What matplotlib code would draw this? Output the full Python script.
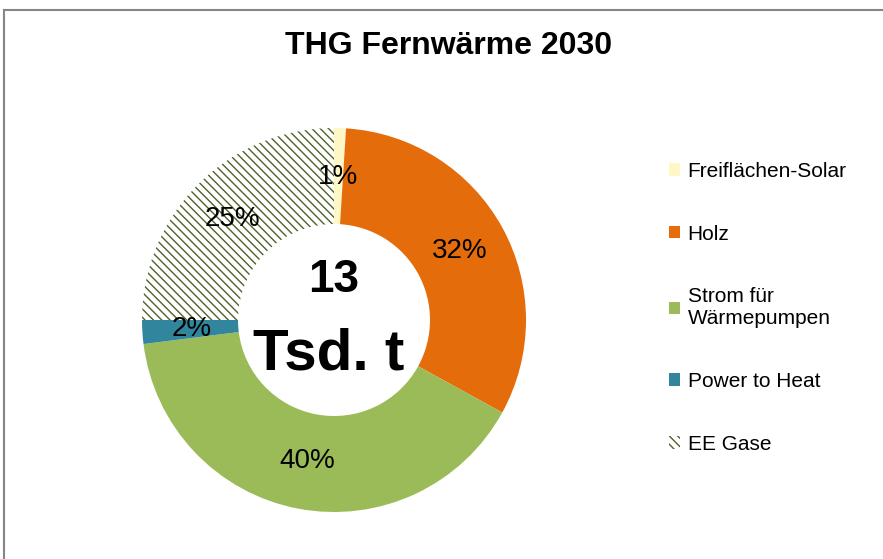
import matplotlib.pyplot as plt
from matplotlib.lines import Line2D

plt.rcParams['font.family'] = ['Liberation Sans', 'DejaVu Sans']
plt.rcParams['hatch.linewidth'] = 1.0

# data
labels = ["Freiflächen-Solar", "Holz", "Strom für\nWärmepumpen", "Power to Heat", "EE Gase"]
shares = [1, 32, 40, 2, 25]
colors = ["#FFF8C6", "#E46C0A", "#9BBB59", "#31859C", "white"]
hatches = [None, None, None, None, "\\\\\\\\"]
title = "THG Fernwärme 2030"
center_value = "13"
center_unit = "Tsd. t"

W, H = 883, 559
fig = plt.figure(figsize=(W / 100, H / 100), dpi=100)

# donut centre (334, 320) px, outer radius 192 px
cx, cy, r = 334, 320, 192
ax = fig.add_axes([(cx - r) / W, (H - cy - r) / H, 2 * r / W, 2 * r / H])

wedges, texts, autotexts = ax.pie(
    shares, colors=colors, startangle=90, counterclock=False,
    radius=1.0, autopct='%.0f%%', pctdistance=0.745,
    wedgeprops=dict(width=0.5, linewidth=0),
    textprops=dict(fontsize=20, color='black'))
for w, h in zip(wedges, hatches):
    if h:
        w.set_hatch(h)
        w.set_edgecolor("#4F6228")
        w.set_linewidth(0)
ax.set_xlim(-1, 1)
ax.set_ylim(-1, 1)

ax.text(0, 0.21, center_value, ha='center', va='center', fontsize=33, fontweight='bold')
ax.text(-0.03, -0.18, center_unit, ha='center', va='center', fontsize=42, fontweight='bold')

fig.text(449 / W, 1 - 46 / H, title, ha='center', va='center', fontsize=23, fontweight='bold')

leg = fig.legend(wedges, labels, loc='upper left', bbox_to_anchor=(650 / W, 1 - 143 / H),
                 frameon=False, fontsize=15, handlelength=0.55, handleheight=0.55,
                 handletextpad=0.35, labelspacing=2.1)

# chart frame (top and left edges visible)
fig.add_artist(Line2D([4 / W, 4 / W], [0, 1 - 10 / H], color='#868686', lw=1.5))
fig.add_artist(Line2D([4 / W, 1], [1 - 10 / H, 1 - 10 / H], color='#868686', lw=1.5))

fig.savefig("out.png", dpi=100)
